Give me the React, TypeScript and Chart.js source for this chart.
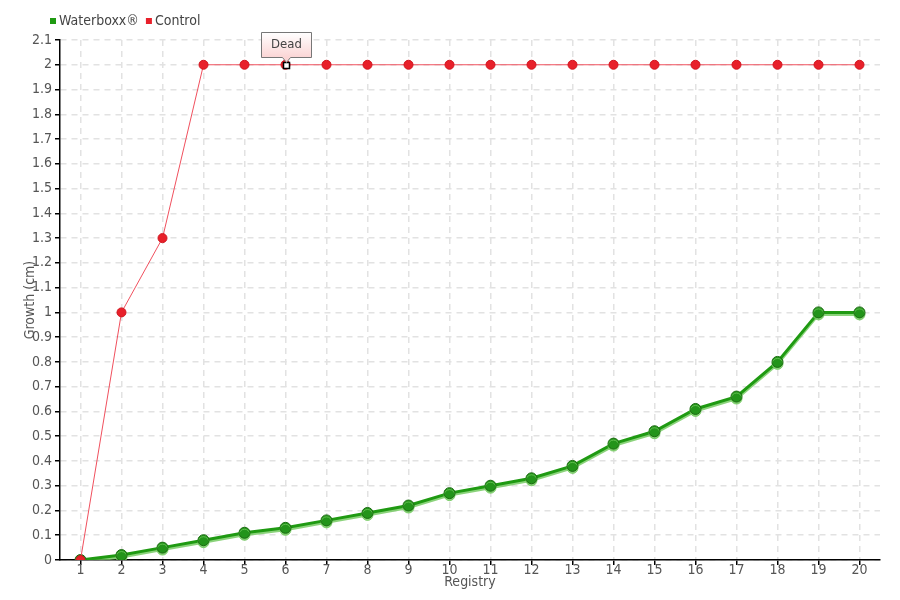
import React, { useEffect, useRef } from "react";
import { Chart, registerables } from "chart.js";

Chart.register(...registerables);

const registries = ["1","2","3","4","5","6","7","8","9","10","11","12","13","14","15","16","17","18","19","20"];
const waterboxx = [0, 0.02, 0.05, 0.08, 0.11, 0.13, 0.16, 0.19, 0.22, 0.27, 0.30, 0.33, 0.38, 0.47, 0.52, 0.61, 0.66, 0.80, 1.0, 1.0];
const control = [0, 1, 1.3, 2, 2, 2, 2, 2, 2, 2, 2, 2, 2, 2, 2, 2, 2, 2, 2, 2];
const seriesNames = ["Waterboxx®", "Control"];
const annotationIndex = 5;
const annotationText = "Dead";

const FONT = '"Liberation Sans Narrow", "DejaVu Sans Condensed", "Roboto", sans-serif';
const GREEN = "#1f9a12";
const RED = "#e8202a";

const extras = {
  id: "extras",
  beforeDatasetDraw(chart: any, args: any) {
    if (args.index === 0) {
      const ctx = chart.ctx;
      ctx.save();
      ctx.shadowColor = "rgba(110,200,90,0.8)";
      ctx.shadowOffsetY = 2;
      ctx.shadowOffsetX = 0;
      ctx.shadowBlur = 0;
    }
  },
  afterDatasetDraw(chart: any, args: any) {
    if (args.index === 0) chart.ctx.restore();
  },
  afterDraw(chart: any) {
    const ctx = chart.ctx;
    ctx.save();
    // legend
    ctx.font = `14px ${FONT}`;
    ctx.textBaseline = "middle";
    let x = 50;
    const ly = 21;
    const colors = [GREEN, RED];
    seriesNames.forEach((n, i) => {
      ctx.fillStyle = colors[i];
      ctx.fillRect(x, ly - 3, 6, 6);
      ctx.fillStyle = "#444";
      ctx.textAlign = "left";
      ctx.fillText(n, x + 9, ly);
      x += 9 + ctx.measureText(n).width + 7;
    });
    // annotation
    const meta = chart.getDatasetMeta(1);
    const pt = meta.data[annotationIndex];
    if (pt) {
      const px = Math.round(pt.x) + 0.5;
      const py = Math.round(pt.y) + 0.5;
      ctx.fillStyle = "#fff";
      ctx.strokeStyle = "#000";
      ctx.lineWidth = 1.5;
      ctx.fillRect(px - 3, py - 3, 6, 6);
      ctx.strokeRect(px - 3, py - 3, 6, 6);
      const w = 50, h = 25;
      const bx = px - w / 2, by = py - 33;
      const g = ctx.createLinearGradient(0, by, 0, by + h);
      g.addColorStop(0, "#ffffff");
      g.addColorStop(1, "#fbd5d5");
      ctx.beginPath();
      ctx.moveTo(bx, by);
      ctx.lineTo(bx + w, by);
      ctx.lineTo(bx + w, by + h);
      ctx.lineTo(px + 4, by + h);
      ctx.lineTo(px, by + h + 5);
      ctx.lineTo(px - 4, by + h);
      ctx.lineTo(bx, by + h);
      ctx.closePath();
      ctx.fillStyle = g;
      ctx.fill();
      ctx.strokeStyle = "#777";
      ctx.lineWidth = 1;
      ctx.stroke();
      ctx.fillStyle = "#444";
      ctx.font = `13px ${FONT}`;
      ctx.textAlign = "center";
      ctx.textBaseline = "middle";
      ctx.fillText(annotationText, px, by + h / 2);
    }
    ctx.restore();
  },
};

export default function App() {
  const ref = useRef<HTMLCanvasElement>(null);
  useEffect(() => {
    document.body.style.margin = "0";
    const chart = new Chart(ref.current!, {
      type: "line",
      data: {
        labels: registries,
        datasets: [
          {
            label: seriesNames[0],
            data: waterboxx,
            borderColor: GREEN,
            borderWidth: 3,
            backgroundColor: "#23941a",
            pointBorderColor: "#1a6b10",
            pointBorderWidth: 1,
            pointRadius: 5.5,
            tension: 0,
            order: 1,
          },
          {
            label: seriesNames[1],
            data: control,
            borderColor: "#f0505e",
            borderWidth: 1,
            backgroundColor: RED,
            pointBorderColor: "#d0141e",
            pointBorderWidth: 1,
            pointRadius: 4.5,
            tension: 0,
            order: 0,
          },
        ],
      },
      options: {
        animation: false,
        responsive: false,
        layout: { padding: { left: 0, right: 20, top: 40, bottom: 0 } },
        plugins: { legend: { display: false }, tooltip: { enabled: false } },
        scales: {
          x: {
            offset: true,
            grid: { offset: false, color: "#e2e2e2", tickColor: "#000", tickLength: 5, lineWidth: 1.5 },
            border: { color: "#000", width: 1.5, dash: [6, 5] },
            ticks: { color: "#555", font: { family: FONT, size: 14 }, padding: -3, maxRotation: 0 },
            title: { display: true, text: "Registry", color: "#555", font: { family: FONT, size: 14 }, padding: 9 },
            afterFit: (s: any) => { s.height = 40; },
          },
          y: {
            min: 0,
            max: 2.1,
            grid: { color: "#e2e2e2", tickColor: "#000", tickLength: 5, lineWidth: 1.5 },
            border: { color: "#000", width: 1.5, dash: [6, 5] },
            ticks: {
              stepSize: 0.1,
              color: "#555",
              font: { family: FONT, size: 14 },
              padding: 3,
              callback: (v: any) => String(Number(Number(v).toFixed(1))),
            },
            title: { display: true, text: "Growth (cm)", color: "#555", font: { family: FONT, size: 14 }, padding: 22 },
            afterFit: (s: any) => { s.width = 60; },
          },
        },
      },
      plugins: [extras],
    });
    return () => chart.destroy();
  }, []);
  return (
    <div style={{ position: "absolute", left: 0, top: 0, width: 900, height: 600 }}>
      <canvas ref={ref} width={900} height={600} />
    </div>
  );
}
